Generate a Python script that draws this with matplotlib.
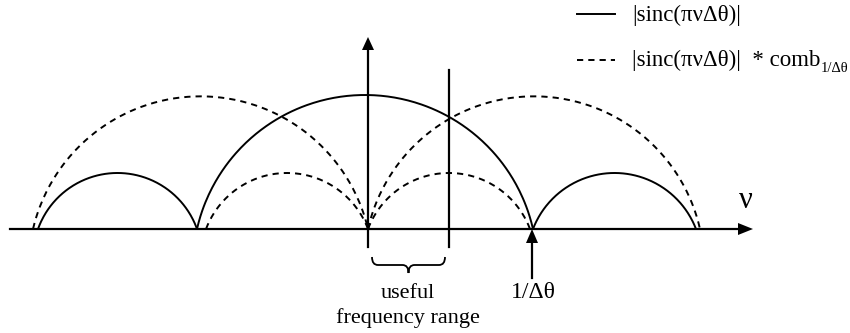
import numpy as np
import matplotlib
matplotlib.use("Agg")
import matplotlib.pyplot as plt
from matplotlib.path import Path
from matplotlib.patches import PathPatch, Polygon

# ---- data: lobes (nu in units of 1/dtheta, amplitude normalised to main lobe)
solid_starts = [-1.964, -1.012, 1.000]
solid_ends = [-1.012, 1.000, 1.976]
solid_heights = [0.418, 1.000, 0.418]

dashed_starts = [-1.994, -0.958, 0.012, 0.012]
dashed_ends = [0.012, 0.012, 0.982, 2.000]
dashed_heights = [0.99, 0.418, 0.418, 0.99]

legend_labels = ["|sinc(\u03c0\u03bd\u0394\u03b8)|", "|sinc(\u03c0\u03bd\u0394\u03b8)|  * comb"]
legend_sub = "1/\u0394\u03b8"
axis_label = "\u03bd"
tick_label = "1/\u0394\u03b8"
range_label = "useful\nfrequency range"

# ---- layout
W, H = 850, 333
SX, SY = 167.0, 134.0      # pixels per unit
X0, Y0 = 366.0, 229.0      # pixel position of origin

def P(px, py):
    return ((px - X0) / SX, (Y0 - py) / SY)

SERIF = ["Liberation Serif", "DejaVu Serif"]

fig = plt.figure(figsize=(W / 100, H / 100), dpi=100)
ax = fig.add_axes([0, 0, 1, 1])
ax.set_xlim(P(0, 0)[0], P(W, 0)[0])
ax.set_ylim(P(0, H)[1], P(0, 0)[1])
ax.axis("off")


def lobe(a, b, h, n=200):
    # circular-segment arch (computed in pixel space) through (a,0), (b,0), peak h
    w = (b - a) / 2 * SX
    hp = h * SY
    R = (w ** 2 + hp ** 2) / (2 * hp)
    xs = np.linspace(-w, w, n)
    ys = np.sqrt(np.maximum(R ** 2 - xs ** 2, 0)) - (R - hp)
    return (a + b) / 2 + xs / SX, ys / SY

LW = 1.4
for a, b, h in zip(solid_starts, solid_ends, solid_heights):
    x, y = lobe(a, b, h)
    ax.plot(x, y, color="black", lw=LW, solid_capstyle="butt")

for a, b, h in zip(dashed_starts, dashed_ends, dashed_heights):
    x, y = lobe(a, b, h)
    ax.plot(x, y, color="black", lw=LW, linestyle=(0, (3.2, 2.6)))

# horizontal axis with arrow
ax.plot([P(10, 0)[0], P(740, 0)[0]], [0, 0], color="black", lw=1.6)
ax.add_patch(Polygon([P(753, 229), P(738, 223), P(738, 235)], closed=True,
                     color="black", lw=0))

# vertical axis with arrow
ax.plot([P(368, 0)[0]] * 2, [P(0, 247)[1], P(0, 50)[1]], color="black", lw=1.6)
ax.add_patch(Polygon([P(368, 37), P(362, 50), P(374, 50)], closed=True,
                     color="black", lw=0))

# useful-range limit line
ax.plot([P(449, 0)[0]] * 2, [P(0, 247)[1], P(0, 70)[1]], color="black", lw=1.6)

# arrow marking 1/dtheta
ax.plot([P(532, 0)[0]] * 2, [P(0, 278)[1], P(0, 242)[1]], color="black", lw=1.6)
ax.add_patch(Polygon([P(532, 229), P(526, 243), P(538, 243)], closed=True,
                     color="black", lw=0))

# curly brace under useful frequency range
bx0, bx1, bxm = 372, 445, 408.5
yt, yf, yb = 257, 265, 273
r = 6
verts = [P(bx0, yt), P(bx0, yf), P(bx0 + r, yf),
         P(bxm - r, yf), P(bxm, yf), P(bxm, yb),
         P(bxm, yf), P(bxm + r, yf),
         P(bx1 - r, yf), P(bx1, yf), P(bx1, yt)]
codes = [Path.MOVETO, Path.CURVE3, Path.CURVE3,
         Path.LINETO, Path.CURVE3, Path.CURVE3,
         Path.CURVE3, Path.CURVE3,
         Path.LINETO, Path.CURVE3, Path.CURVE3]
ax.add_patch(PathPatch(Path(verts, codes), fill=False, lw=1.3, color="black"))

# texts
ax.text(*P(746, 200), axis_label, family=SERIF, fontsize=22,
        ha="center", va="center")
ax.text(*P(533, 293), tick_label, family=SERIF, fontsize=17,
        ha="center", va="center")
ax.text(*P(408, 306), range_label, family=SERIF, fontsize=16,
        ha="center", va="center", linespacing=1.35)

# legend
ax.plot([P(577, 0)[0], P(615, 0)[0]], [P(0, 14)[1]] * 2, color="black", lw=LW)
ax.plot([P(577, 0)[0], P(615, 0)[0]], [P(0, 60)[1]] * 2, color="black", lw=LW,
        linestyle=(0, (3.2, 2.6)))
ax.text(*P(632, 15), legend_labels[0], family=SERIF, fontsize=16.5,
        ha="left", va="center")
t2 = ax.text(*P(632, 60), legend_labels[1], family=SERIF, fontsize=16.5,
             ha="left", va="center")
ax.annotate(legend_sub, xy=(1, 0), xycoords=t2, xytext=(0.5, -3),
            textcoords="offset points", family=SERIF, fontsize=10.5,
            ha="left", va="bottom")

fig.savefig("out.png", dpi=100)
